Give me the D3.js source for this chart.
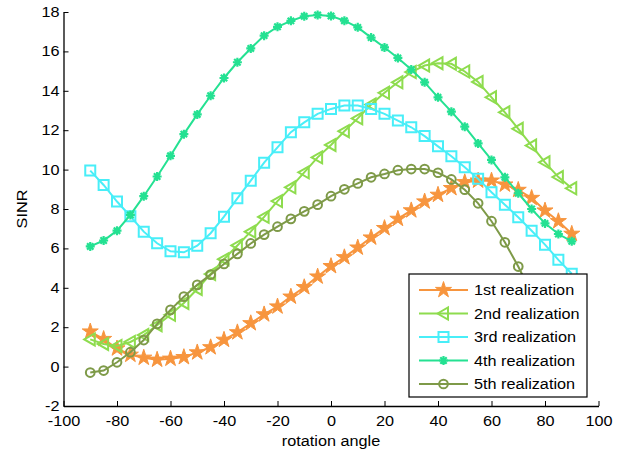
<!DOCTYPE html>
<html><head><meta charset="utf-8">
<script src="https://cdn.jsdelivr.net/npm/d3@7"></script>
<style>body{margin:0;background:#fff}svg{display:block}text{font-family:"Liberation Sans",Arial,sans-serif;fill:#000}</style>
</head><body><svg id="c" width="622" height="457"></svg>
<script>
const angles = d3.range(-90, 91, 5);
const xTicks = [-100,-80,-60,-40,-20,0,20,40,60,80,100];
const yTicks = [-2,0,2,4,6,8,10,12,14,16,18];
const seriesNames = ["1st realization","2nd realization","3rd realization","4th realization","5th realization"];
const seriesColors = ["#F7953E","#8EDC4E","#48EEF8","#24E192","#7E9A48"];
const seriesMarkers = ["star","triLeft","square","asterisk","circle"];
const s1 = [1.78,1.4,0.92,0.6,0.45,0.35,0.4,0.48,0.72,0.98,1.36,1.74,2.2,2.65,3.05,3.55,4.03,4.57,5.1,5.55,6.04,6.55,7.03,7.5,7.93,8.38,8.72,9.06,9.36,9.44,9.44,9.24,8.97,8.56,7.92,7.38,6.74];
const s2 = [1.38,1.15,1.05,1.25,1.6,2.1,2.63,3.23,3.94,4.7,5.45,6.15,6.85,7.6,8.4,9.1,9.86,10.62,11.25,11.95,12.6,13.3,13.9,14.43,14.95,15.28,15.4,15.37,14.98,14.45,13.67,12.91,12.07,11.22,10.37,9.62,9.05];
const s3 = [9.95,9.22,8.38,7.63,6.85,6.26,5.85,5.8,6.14,6.77,7.61,8.54,9.44,10.35,11.13,11.9,12.4,12.83,13.08,13.25,13.25,13.08,12.83,12.49,12.15,11.7,11.18,10.68,10.12,9.53,8.85,8.22,7.58,6.9,6.19,5.42,4.71];
const s4 = [6.1,6.4,6.9,7.7,8.65,9.65,10.7,11.8,12.8,13.75,14.65,15.45,16.15,16.8,17.25,17.55,17.78,17.85,17.8,17.56,17.22,16.7,16.2,15.67,15.08,14.43,13.67,12.94,12.18,11.33,10.49,9.61,8.8,8.0,7.27,6.73,6.36];
const s5 = [-0.3,-0.2,0.22,0.73,1.35,2.17,2.88,3.55,4.15,4.67,5.21,5.72,6.25,6.7,7.1,7.5,7.88,8.22,8.65,9.0,9.3,9.61,9.78,9.97,10.03,10.03,9.84,9.5,8.98,8.29,7.38,6.31,5.08,3.7,2.3,0.9,-0.5];
const allSeries = [s1,s2,s3,s4,s5];

const STRETCH = 1.16;
const svg = d3.select("#c");
const L = 63.5, R = 598.5, T = 12, B = 406;
const x = d3.scaleLinear().domain([-100,100]).range([L,R]);
const y = d3.scaleLinear().domain([-2,18]).range([B,T]);

function markerPath(type){
  if(type==="star") return d3.symbol(d3.symbolStar, 80)();
  if(type==="triLeft") return "M-6,0L4.5,-6L4.5,6Z";
  if(type==="square") return "M-5,-5H5V5H-5Z";
  if(type==="circle") return d3.symbol(d3.symbolCircle, 60)();
  if(type==="asterisk") return "M-4.5,0H4.5M0,-4.5V4.5M-3.2,-3.2L3.2,3.2M-3.2,3.2L3.2,-3.2";
}
function drawMarker(g, type, color){
  const p = g.append("path").attr("d", markerPath(type)).attr("stroke", color);
  if(type==="star"){ p.attr("fill", color).attr("stroke-width",1); }
  else if(type==="asterisk"){ p.attr("fill","none").attr("stroke-width",2.2); g.append("circle").attr("r",2.2).attr("fill",color); }
  else { p.attr("fill","none").attr("stroke-width",2); }
}

// axes
const xAxis = d3.axisBottom(x).tickValues(xTicks).tickFormat(d=>String(d)).tickSizeInner(-5).tickSizeOuter(0).tickPadding(10);
const yAxis = d3.axisLeft(y).tickValues(yTicks).tickFormat(d=>String(d)).tickSizeInner(-5).tickSizeOuter(0).tickPadding(3.5);
const gx = svg.append("g").attr("transform",`translate(0,${B})`).call(xAxis);
const gy = svg.append("g").attr("transform",`translate(${L},0)`).call(yAxis);
[gx,gy].forEach(g=>{
  g.selectAll(".domain").attr("stroke","#000").attr("stroke-width",1.3);
  g.selectAll(".tick line").attr("stroke","#000").attr("stroke-width",1);
  g.selectAll("text").style("font-size","14px").style("font-family","'Liberation Sans',Arial,sans-serif").attr("fill","#000")
    .attr("transform",`scale(${STRETCH},1)`);
});

function stretchedText(parent, tx, ty, str, anchor){
  return parent.append("text").attr("transform",`translate(${tx},${ty}) scale(${STRETCH},1)`)
    .attr("text-anchor",anchor).style("font-size","14px").text(str);
}

// series
const line = d3.line().x((d,i)=>x(angles[i])).y(d=>y(d));
allSeries.forEach((s,k)=>{
  const g = svg.append("g");
  g.append("path").datum(s).attr("d", line).attr("fill","none").attr("stroke", seriesColors[k]).attr("stroke-width",2);
  s.forEach((v,i)=>{
    const m = g.append("g").attr("transform",`translate(${x(angles[i])},${y(v)})`);
    drawMarker(m, seriesMarkers[k], seriesColors[k]);
  });
});

stretchedText(svg, (L+R)/2, 446, "rotation angle", "middle");
svg.append("text").attr("transform",`translate(27,${(T+B)/2}) rotate(-90) scale(${STRETCH},1)`).attr("text-anchor","middle").style("font-size","14px").text("SINR");

// legend
const lg = svg.append("g").attr("transform","translate(409,274)");
lg.append("rect").attr("width",178).attr("height",123).attr("fill","#fff").attr("stroke","#000").attr("stroke-width",1.2);
seriesNames.forEach((n,k)=>{
  const yy = 16 + k*23.5;
  lg.append("line").attr("x1",10).attr("x2",59).attr("y1",yy).attr("y2",yy).attr("stroke",seriesColors[k]).attr("stroke-width",2);
  const m = lg.append("g").attr("transform",`translate(34.5,${yy})`);
  drawMarker(m, seriesMarkers[k], seriesColors[k]);
  stretchedText(lg, 65, yy+5, n, "start");
});
</script></body></html>
